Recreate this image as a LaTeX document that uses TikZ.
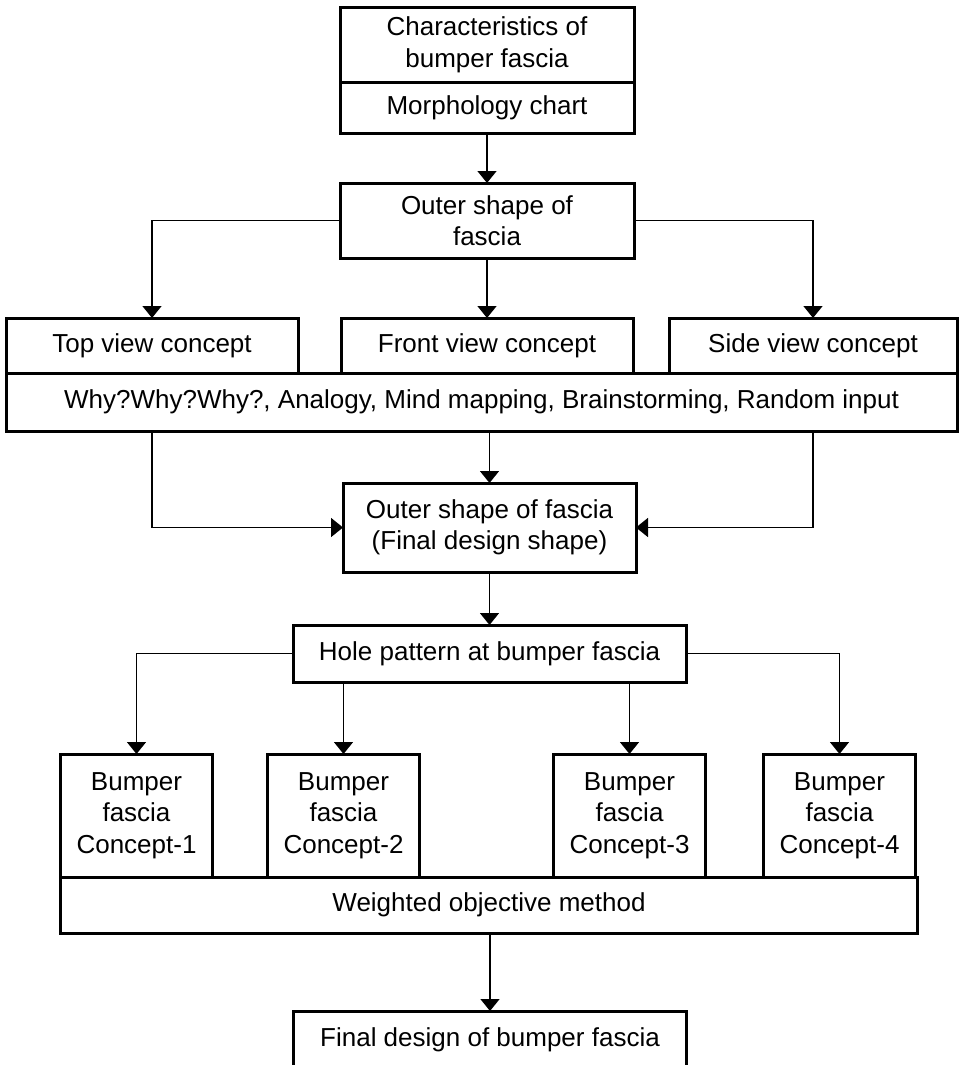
\documentclass[tikz,border=0pt]{standalone}
\usepackage{fontspec}
\setmainfont{Liberation Sans}
\usepackage{tikz}
\usetikzlibrary{positioning, arrows.meta}
\tikzstyle{base} = [rectangle, draw=black, line width=3pt, inner sep=0pt, outer sep=0pt, align=center, font=\fontsize{26}{31.5}\selectfont]
\tikzstyle{headbox} = [base, minimum width=294pt]
\tikzstyle{viewbox} = [base, minimum width=292pt, minimum height=55pt]
\tikzstyle{methodbox} = [base, minimum height=57pt]
\tikzstyle{concept} = [base, minimum width=152pt, minimum height=123pt]
\tikzstyle{arrow} = [line width=1.5pt, -{Triangle[width=19pt,length=12pt]}]

\begin{document}
\begin{tikzpicture}
		\useasboundingbox (0,0) rectangle (960pt,-1065pt);
		\node (chars) [headbox, minimum height=74pt] at (487pt,-45pt) {Characteristics of\\bumper fascia};
		\node (morph) [headbox, minimum height=51pt, below=0pt of chars] {Morphology chart};
		\node (outer) [headbox, minimum height=75pt, below=50pt of morph] {Outer shape of\\fascia};
		\node (frontv) [viewbox, below=60pt of outer] {Front view concept};
		\node (topv) [viewbox, left=43pt of frontv] {Top view concept};
		\node (sidev) [viewbox, minimum width=288pt, right=36pt of frontv] {Side view concept};
		\node (why) [methodbox, minimum width=951pt, minimum height=58pt, anchor=north west] at (topv.south west) {Why?Why?Why?, Analogy, Mind mapping, Brainstorming, Random input};
		\node (fshape) [headbox, minimum width=293pt, minimum height=89pt, below=52pt of why, xshift=8pt] {Outer shape of fascia\\(Final design shape)};
		\node (hole) [methodbox, minimum width=393pt, below=53pt of fshape] {Hole pattern at bumper fascia};
		\node (c2) [concept, below=72pt of hole, xshift=-146pt] {Bumper\\fascia\\Concept-2};
		\node (c1) [concept, left=55pt of c2] {Bumper\\fascia\\Concept-1};
		\node (c3) [concept, right=134pt of c2] {Bumper\\fascia\\Concept-3};
		\node (c4) [concept, right=58pt of c3] {Bumper\\fascia\\Concept-4};
		\node (weighted) [methodbox, minimum width=857pt, minimum height=56pt, anchor=north west] at (c1.south west) {Weighted objective method};
		\node (final) [methodbox, minimum width=393pt, minimum height=58pt, below=78pt of weighted, xshift=1pt] {Final design of bumper fascia};
		\draw [arrow] (morph) -- (outer);
		\draw [arrow] (outer.west) -| (topv.north);
		\draw [arrow] (outer) -- (frontv);
		\draw [arrow] (outer.east) -| (sidev.north);
		\draw [arrow] (why.south -| topv.south) |- (fshape.west);
		\draw [arrow] (why.south -| fshape.north) -- (fshape.north);
		\draw [arrow] (why.south -| sidev.south) |- (fshape.east);
		\draw [arrow] (fshape) -- (hole);
		\draw [arrow] (hole.west) -| (c1.north);
		\draw [arrow] (hole.south -| c2.north) -- (c2.north);
		\draw [arrow] (hole.south -| c3.north) -- (c3.north);
		\draw [arrow] (hole.east) -| (c4.north);
		\draw [arrow] (weighted.south -| final.north) -- (final.north);
	\end{tikzpicture}
\end{document}
